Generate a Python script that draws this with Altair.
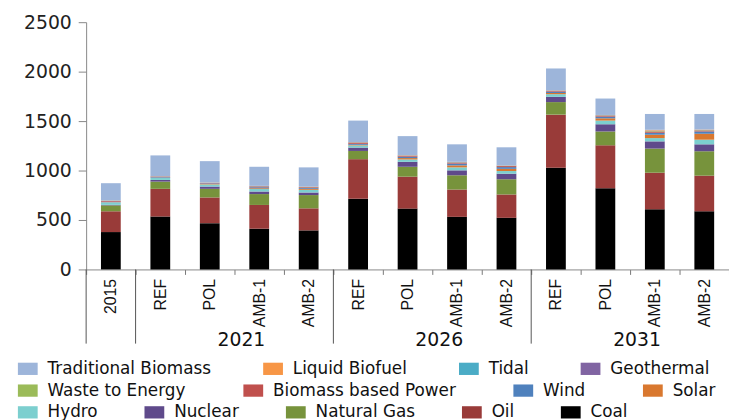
import altair as alt
import pandas as pd

# ---- data -------------------------------------------------------------
scenarios = ["2015", "REF", "POL", "AMB-1", "AMB-2",
             "REF", "POL", "AMB-1", "AMB-2",
             "REF", "POL", "AMB-1", "AMB-2"]
group_labels = ["2021", "2026", "2031"]
group_center_ids = [3, 7, 11]        # band whose left edge is the group centre
separator_ids = [0, 1, 5, 9]         # band whose left edge carries a separator

sources = ["Coal", "Oil", "Natural Gas", "Nuclear", "Hydro", "Solar", "Wind",
           "Biomass based Power", "Waste to Energy", "Geothermal", "Tidal",
           "Liquid Biofuel", "Traditional Biomass"]
colors = ["#000000", "#993b39", "#77933c", "#5f4a8b", "#7ccfcf", "#d9782f",
          "#4f81bd", "#c0504d", "#9bbb59", "#8064a2", "#4bacc6", "#f79646",
          "#9db5da"]

coal = [378, 535, 468, 412, 395, 715, 615, 532, 522, 1028, 822, 608, 588]
oil = [210, 280, 260, 240, 223, 400, 323, 276, 236, 537, 433, 370, 360]
natural_gas = [60, 73, 87, 110, 134, 83, 100, 144, 154, 127, 140, 244, 247]
nuclear = [5, 17, 23, 26, 26, 34, 50, 50, 56, 53, 73, 73, 70]
hydro = [25, 20, 22, 25, 27, 22, 24, 30, 27, 27, 37, 33, 47]
solar = [2, 3, 4, 8, 10, 6, 14, 20, 22, 12, 23, 34, 60]
wind = [5, 6, 6, 10, 10, 10, 14, 18, 18, 14, 17, 20, 23]
biomass_power = [8, 5, 5, 8, 7, 12, 9, 10, 10, 8, 10, 13, 10]
waste_to_energy = [2, 1, 1, 2, 2, 2, 2, 3, 3, 2, 3, 5, 4]
geothermal = [1, 1, 1, 2, 2, 2, 2, 2, 2, 2, 2, 3, 2]
tidal = [1, 1, 0.5, 1, 1, 1, 1, 1, 1, 1, 1, 2, 1]
liquid_biofuel = [1, 1, 1.5, 1, 1, 1, 2, 2, 1, 1, 1, 7, 3]
traditional_biomass = [174, 210, 216, 193, 194, 217, 192, 177, 183, 220, 166, 160, 157]

series = [coal, oil, natural_gas, nuclear, hydro, solar, wind, biomass_power,
          waste_to_energy, geothermal, tidal, liquid_biofuel, traditional_biomass]

legend_rows = [
    ["Traditional Biomass", "Liquid Biofuel", "Tidal", "Geothermal"],
    ["Waste to Energy", "Biomass based Power", "Wind", "Solar"],
    ["Hydro", "Nuclear", "Natural Gas", "Oil", "Coal"],
]
y_ticks = [0, 500, 1000, 1500, 2000, 2500]

rows = []
for k, (src, vals) in enumerate(zip(sources, series)):
    for i, v in enumerate(vals):
        rows.append({"id": i, "scenario": scenarios[i], "source": src,
                     "value": v, "order": k})
df = pd.DataFrame(rows)
sep_df = pd.DataFrame({"id": separator_ids})
grp_df = pd.DataFrame({"id": group_center_ids, "label": group_labels})

# ---- styling ----------------------------------------------------------
NARROW = "Liberation Sans"
WIDE = "DejaVu Sans"
RECT = "M-1,-0.62H1V0.62H-1Z"

label_expr = "[" + ",".join("'%s'" % s for s in scenarios) + "][datum.value]"

color_scale = alt.Scale(domain=sources, range=colors)


def legend(values, y, pad):
    return alt.Legend(
        values=values, orient="none", legendX=-69, legendY=y,
        direction="horizontal", columns=len(values), columnPadding=pad,
        labelFont=WIDE, labelFontSize=17, labelColor="#111111",
        labelLimit=400, labelOffset=10, symbolType=RECT, symbolSize=400,
        symbolStrokeWidth=0, symbolOpacity=1, padding=0)


x_axis = alt.Axis(
    title=None, labelExpr=label_expr, labelAngle=270, labelFont=NARROW,
    labelFontSize=16, labelColor="#111111", labelPadding=4,
    ticks=True, tickBand="extent", tickSize=5, tickColor="#777777",
    domainColor="#888888", grid=False)

y_axis = alt.Axis(
    title=None, values=y_ticks, format="d", labelFont=WIDE, labelFontSize=19,
    labelColor="#222222", labelPadding=7, tickSize=8, tickColor="#888888",
    domainColor="#888888", grid=False)

xs = alt.Scale(paddingInner=0, paddingOuter=0)

bars = alt.Chart(df).mark_bar(size=20).encode(
    x=alt.X("id:O", scale=xs, axis=x_axis),
    y=alt.Y("value:Q", stack="zero", scale=alt.Scale(domain=[0, 2500]), axis=y_axis),
    color=alt.Color("source:N", scale=color_scale, title=None,
                    legend=legend(legend_rows[0], 340.5, 52)),
    order=alt.Order("order:Q", sort="ascending"),
)

leg2 = alt.Chart(df).mark_square(opacity=0).encode(
    x=alt.X("id:O", scale=xs, axis=x_axis),
    color=alt.Color("source:N", scale=color_scale, title=None,
                    legend=legend(legend_rows[1], 362.5, 58)),
)

leg3 = alt.Chart(df).mark_square(opacity=0).encode(
    x=alt.X("id:O", scale=xs, axis=x_axis),
    color=alt.Color("source:N", scale=color_scale, title=None,
                    legend=legend(legend_rows[2], 384.5, 47)),
)

seps = alt.Chart(sep_df).mark_rule(color="#555555", strokeWidth=1).encode(
    x=alt.X("id:O", bandPosition=0, scale=xs, axis=x_axis),
    y=alt.value(250),
    y2=alt.value(325),
)

groups = alt.Chart(grp_df).mark_text(
    font=WIDE, fontSize=19, dx=7, baseline="middle", color="#111111"
).encode(
    x=alt.X("id:O", bandPosition=0, scale=xs, axis=x_axis),
    y=alt.value(321),
    text="label:N",
)

chart = alt.layer(bars, seps, groups, leg2, leg3).resolve_scale(
    color="independent"
).properties(
    width=650, height=250,
    autosize=alt.AutoSizeParams(type="none"),
    padding={"left": 79, "top": 12, "right": 0, "bottom": 160},
).configure_view(strokeWidth=0)

chart.save("out.html", embed_options={"renderer": "svg", "actions": False})
